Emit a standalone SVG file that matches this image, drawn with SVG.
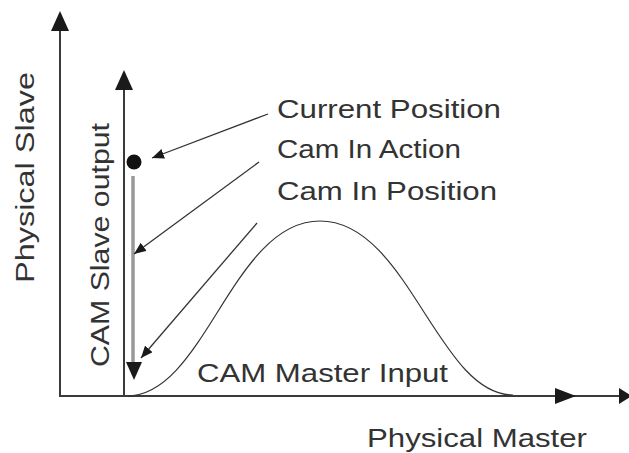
<svg xmlns="http://www.w3.org/2000/svg" width="629" height="453" viewBox="0 0 629 453">
<style>
text{font-family:"Liberation Sans",Arial,sans-serif;font-size:25px;fill:#333}
.ax{stroke:#3a3a3a;stroke-width:2;fill:none}
.ptr{stroke:#333;stroke-width:1.3;fill:none}
.hd{fill:#1a1a1a}
</style>
<defs>
<marker id="sm" viewBox="0 0 12 10" refX="12" refY="5" markerWidth="12" markerHeight="10" markerUnits="userSpaceOnUse" orient="auto">
<path d="M0,0 L12,5 L0,10 Z" fill="#1a1a1a"/>
</marker>
</defs>
<rect width="629" height="453" fill="#fff"/>
<g id="axes">
<line class="ax" x1="60" y1="396" x2="60" y2="28"/>
<path class="hd" d="M60,11 L69,31 L51,31 Z"/>
<line class="ax" x1="124" y1="396" x2="124" y2="86"/>
<path class="hd" d="M124,70 L133,90 L115,90 Z"/>
<line class="ax" x1="59" y1="396" x2="626" y2="396"/>
<path class="hd" d="M576,396 L555,388 L555,404 Z"/>
<path class="hd" d="M632,396 L619,388 L619,404 Z"/>
</g>
<g id="slave-output">
<circle cx="134" cy="162" r="7.5" fill="#111"/>
<line x1="133" y1="176" x2="133" y2="364" stroke="#999" stroke-width="3.5"/>
<path class="hd" d="M134,380 L142,362 L126,362 Z"/>
</g>
<g id="curve">
<path d="M127,396 C205,396 232,221 320,221 C408,221 438,395 513,395" fill="none" stroke="#333" stroke-width="1.2"/>
</g>
<g id="connectors">
<line class="ptr" x1="268" y1="114" x2="152" y2="158" marker-end="url(#sm)"/>
<line class="ptr" x1="259" y1="162" x2="134" y2="254" marker-end="url(#sm)"/>
<line class="ptr" x1="257" y1="223" x2="141" y2="358" marker-end="url(#sm)"/>
</g>
<g id="labels">
<text x="277" y="118" textLength="224" lengthAdjust="spacingAndGlyphs">Current Position</text>
<text x="277" y="158" textLength="184" lengthAdjust="spacingAndGlyphs">Cam In Action</text>
<text x="277" y="200" textLength="220" lengthAdjust="spacingAndGlyphs">Cam In Position</text>
<text x="197" y="382" textLength="251" lengthAdjust="spacingAndGlyphs">CAM Master Input</text>
<text x="367" y="447" textLength="220" lengthAdjust="spacingAndGlyphs">Physical Master</text>
<text transform="translate(34,283) rotate(-90)" textLength="211" lengthAdjust="spacingAndGlyphs">Physical Slave</text>
<text transform="translate(109,367) rotate(-90)" textLength="244" lengthAdjust="spacingAndGlyphs">CAM Slave output</text>
</g>
</svg>
